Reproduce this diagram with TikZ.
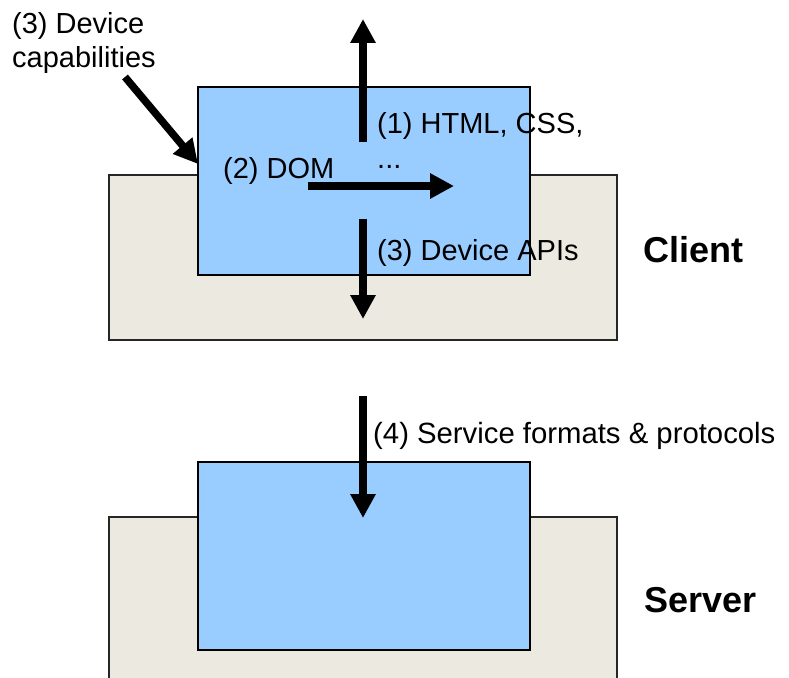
\documentclass[tikz,border=0pt]{standalone}
\usepackage{fontspec}
\setmainfont{Liberation Sans}
\usetikzlibrary{arrows.meta}
\definecolor{beige}{HTML}{ECE9E0}
\definecolor{skyblue}{HTML}{99CCFF}
\begin{document}
\begin{tikzpicture}[x=1pt,y=-1pt,
  base/.style={draw=black!85,line width=1.5pt,fill=beige,inner sep=0pt,outer sep=0pt,anchor=north west},
  inner/.style={draw=black,line width=1.6pt,fill=skyblue,inner sep=0pt,outer sep=0pt,anchor=north west},
  bigarrow/.style={line width=7.5pt,-{Triangle[width=24pt,length=24pt]}},
  lbl/.style={anchor=base west,inner sep=0pt,font=\fontsize{29}{33}\selectfont},
  tier/.style={anchor=base west,inner sep=0pt,font=\fontsize{36}{40}\selectfont\bfseries}]
\useasboundingbox (0,0) rectangle (789,677);
\clip (0,0) rectangle (789,677);
% client
\node[base,minimum width=508pt,minimum height=165pt] (cbase) at (109,175) {};
\node[inner,minimum width=332pt,minimum height=188pt] (cin) at (198,87) {};
% server
\node[base,minimum width=508pt,minimum height=180pt] (sbase) at (109,517) {};
\node[inner,minimum width=332pt,minimum height=188pt] (sin) at (198,462) {};
% arrow end points
\coordinate (upA) at (363,142);
\coordinate (upB) at (363,19);
\coordinate (dnA) at (363,219);
\coordinate (dnB) at (363,319);
\coordinate (hzA) at (308,186);
\coordinate (hzB) at (454,186);
\coordinate (dgA) at (125,77);
\coordinate (dgB) at (198,164);
\coordinate (svA) at (363,396);
\coordinate (svB) at (363,518);
\draw[bigarrow] (upA) -- (upB);
\draw[bigarrow] (dnA) -- (dnB);
\draw[bigarrow] (hzA) -- (hzB);
\draw[bigarrow] (dgA) -- (dgB);
\draw[bigarrow] (svA) -- (svB);
% labels
\node[lbl] (capA) at (12,34) {(3) Device};
\node[lbl] (capB) at (12,67) {capabilities};
\node[lbl] (html) at (377,133) {(1) HTML, CSS,};
\node[lbl] (dots) at (377,168) {...};
\node[lbl] (dom) at (223,178) {(2) DOM};
\node[lbl] (api) at (377,260) {(3) Device APIs};
\node[lbl,font=\fontsize{29.3}{33}\selectfont] (svc) at (373,443) {(4) Service formats \& protocols};
\node[tier] (client) at (643,262) {Client};
\node[tier] (server) at (644,612) {Server};
\end{tikzpicture}
\end{document}
